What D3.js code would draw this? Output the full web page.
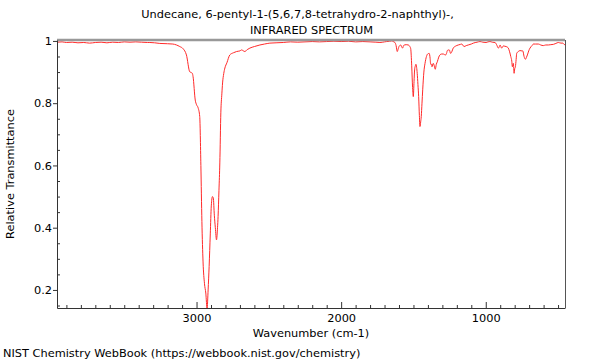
<!DOCTYPE html>
<html>
<head>
<meta charset="utf-8">
<script src="https://cdn.jsdelivr.net/npm/d3@7"></script>
<style>
  body { margin: 0; background: #fff; }
  svg { display: block; font-family: "DejaVu Sans", sans-serif; }
</style>
</head>
<body>
<svg id="chart" width="600" height="360"></svg>
<script>
// ---- data ----
const wavenumbers = [
  3965,3930,3900,3860,3820,3780,3740,3700,3660,3620,3580,3540,3500,3460,3420,3380,3340,3323,3290,3254,
  3200,3164,3116,3093,3070,3047,3035,3029,3024,3009,3000,2989,2978,2970,2963,2955,2945,2936,2927,2920,
  2913,2905,2898,2890,2884,2877,2870,2862,2855,2851,2845,2839,2832,2825,2820,2812,2804,2790,2770,2745,
  2723,2700,2689,2666,2650,2631,2600,2562,2530,2493,2450,2400,2350,2300,2250,2200,2150,2100,2050,2000,
  1950,1900,1850,1800,1760,1732,1700,1685,1665,1651,1640,1628,1620,1612,1605,1600,1588,1581,1575,1570,
  1564,1550,1536,1525,1519,1512,1506,1501,1496,1492,1487,1483,1478,1474,1469,1464,1459,1455,1450,1446,
  1441,1436,1428,1420,1410,1402,1391,1385,1381,1375,1372,1363,1356,1349,1342,1335,1325,1317,1305,1294,
  1285,1277,1270,1266,1258,1252,1243,1235,1225,1210,1190,1175,1166,1150,1135,1121,1100,1086,1060,1040,
  1020,998,985,971,955,936,925,913,905,901,890,878,868,860,850,844,835,827,820,816,
  812,809,804,800,795,790,786,775,763,750,744,735,726,718,712,703,694,680,671,655,
  636,620,602,585,567,550,532,515,498,480,467,458,452
];
const transmittance = [
  0.996,0.997,0.995,0.996,0.994,0.995,0.993,0.995,0.996,0.994,0.996,0.995,0.997,0.996,0.997,0.996,0.995,0.995,0.994,0.992,
  0.991,0.990,0.982,0.975,0.955,0.901,0.898,0.896,0.885,0.810,0.795,0.785,0.757,0.600,0.420,0.290,0.220,0.190,0.140,0.200,
  0.275,0.380,0.470,0.500,0.495,0.440,0.400,0.361,0.400,0.436,0.520,0.608,0.769,0.830,0.865,0.895,0.913,0.930,0.955,0.962,
  0.966,0.968,0.971,0.966,0.972,0.977,0.982,0.987,0.990,0.993,0.994,0.995,0.997,0.996,0.997,0.998,0.997,0.998,0.999,0.998,
  0.999,0.997,0.998,0.997,0.996,0.995,0.997,0.998,0.999,1.000,0.998,0.995,0.985,0.966,0.975,0.982,0.987,0.980,0.977,0.983,
  0.987,0.988,0.987,0.982,0.975,0.920,0.850,0.821,0.870,0.907,0.920,0.925,0.915,0.896,0.860,0.821,0.760,0.725,0.740,0.757,
  0.800,0.843,0.900,0.928,0.950,0.958,0.960,0.945,0.925,0.925,0.917,0.928,0.920,0.909,0.925,0.933,0.948,0.955,0.958,0.958,
  0.956,0.955,0.962,0.969,0.971,0.971,0.960,0.965,0.977,0.983,0.987,0.989,0.990,0.982,0.985,0.987,0.990,0.993,0.996,0.998,
  0.996,0.995,0.997,0.998,0.996,0.995,0.988,0.977,0.983,0.987,0.977,0.984,0.983,0.982,0.980,0.977,0.965,0.950,0.935,0.917,
  0.925,0.928,0.896,0.910,0.917,0.940,0.960,0.966,0.969,0.968,0.968,0.950,0.941,0.948,0.955,0.968,0.977,0.985,0.990,0.990,
  0.990,0.987,0.985,0.987,0.987,0.988,0.989,0.992,0.995,0.993,0.993,0.989,0.987
];
const xTickValues = [3000, 2000, 1000];
const xTickLabels = ["3000", "2000", "1000"];
const yTickValues = [0.2, 0.4, 0.6, 0.8, 1];
const yTickLabels = ["0.2", "0.4", "0.6", "0.8", "1"];
const titleLines = ["Undecane, 6-pentyl-1-(5,6,7,8-tetrahydro-2-naphthyl)-,", "INFRARED SPECTRUM"];
const xTitle = "Wavenumber (cm-1)";
const yTitle = "Relative Transmittance";
const credit = "NIST Chemistry WebBook (https://webbook.nist.gov/chemistry)";

// ---- layout ----
const L = 57, R = 565, T = 40, B = 308;
const svg = d3.select("#chart");
const x = d3.scaleLinear().domain([3965, 452]).range([L, R]);
const y = d3.scaleLinear().domain([0.142, 1.003]).range([B, T]);
const fs = 11.35;

const points = wavenumbers.map((w, i) => [w, transmittance[i]]);

svg.append("defs").append("clipPath").attr("id", "clip")
  .append("rect").attr("x", L).attr("y", T).attr("width", R - L).attr("height", B - T);

// spectrum
svg.append("path")
  .datum(points)
  .attr("clip-path", "url(#clip)")
  .attr("fill", "none")
  .attr("stroke", "#ff2a2a")
  .attr("stroke-width", 1)
  .attr("stroke-linejoin", "round")
  .attr("d", d3.line().x(d => x(d[0])).y(d => y(d[1])).curve(d3.curveMonotoneX));

// frame: top and right
svg.append("line").attr("x1", L).attr("x2", R).attr("y1", T).attr("y2", T)
  .attr("stroke", "#999").attr("stroke-width", 2.5);
svg.append("line").attr("x1", R + 0.5).attr("x2", R + 0.5).attr("y1", T).attr("y2", B)
  .attr("stroke", "#555").attr("stroke-width", 1);

// x axis: minor ticks every 100, major labelled
const xMinor = d3.range(500, 4000, 100).filter(v => v >= 452 && v <= 3965 && !xTickValues.includes(v));
const gxMinor = svg.append("g").attr("transform", `translate(0,${B})`)
  .call(d3.axisBottom(x).tickValues(xMinor).tickSize(-3).tickFormat(""));
gxMinor.select(".domain").remove();
const gx = svg.append("g").attr("transform", `translate(0,${B})`)
  .call(d3.axisBottom(x).tickValues(xTickValues).tickSizeInner(-6).tickSizeOuter(0).tickPadding(6)
    .tickFormat((d, i) => xTickLabels[i]));
gx.selectAll("text").attr("font-size", fs).attr("font-family", "DejaVu Sans").attr("fill", "#000");
gx.selectAll("line, path").attr("stroke", "#333");

// y axis: minor inside every 0.05, major outward
const yMinor = d3.range(0.15, 1.0, 0.05).map(v => +v.toFixed(2)).filter(v => !yTickValues.some(t => Math.abs(t - v) < 1e-6));
const gyMinor = svg.append("g").attr("transform", `translate(${L},0)`)
  .call(d3.axisLeft(y).tickValues(yMinor).tickSize(-3).tickFormat(""));
gyMinor.select(".domain").remove();
const gy = svg.append("g").attr("transform", `translate(${L},0)`)
  .call(d3.axisLeft(y).tickValues(yTickValues).tickSizeInner(4).tickSizeOuter(0).tickPadding(1)
    .tickFormat((d, i) => yTickLabels[i]));
gy.selectAll("text").attr("font-size", fs).attr("font-family", "DejaVu Sans").attr("fill", "#000");
gy.selectAll("line, path").attr("stroke", "#333");
svg.selectAll(".tick line").attr("stroke", "#333");

// titles
svg.append("text").attr("x", 297.5).attr("y", 18).attr("text-anchor", "middle")
  .attr("font-size", fs).text(titleLines[0]);
svg.append("text").attr("x", 311.5).attr("y", 34).attr("text-anchor", "middle")
  .attr("font-size", fs).text(titleLines[1]);
svg.append("text").attr("x", (L + R) / 2).attr("y", 337).attr("text-anchor", "middle")
  .attr("font-size", fs).text(xTitle);
svg.append("text").attr("transform", `translate(14,${(T + B) / 2}) rotate(-90)`)
  .attr("text-anchor", "middle").attr("font-size", fs).text(yTitle);
svg.append("text").attr("x", 3).attr("y", 357).attr("font-size", fs).text(credit);
</script>
</body>
</html>
